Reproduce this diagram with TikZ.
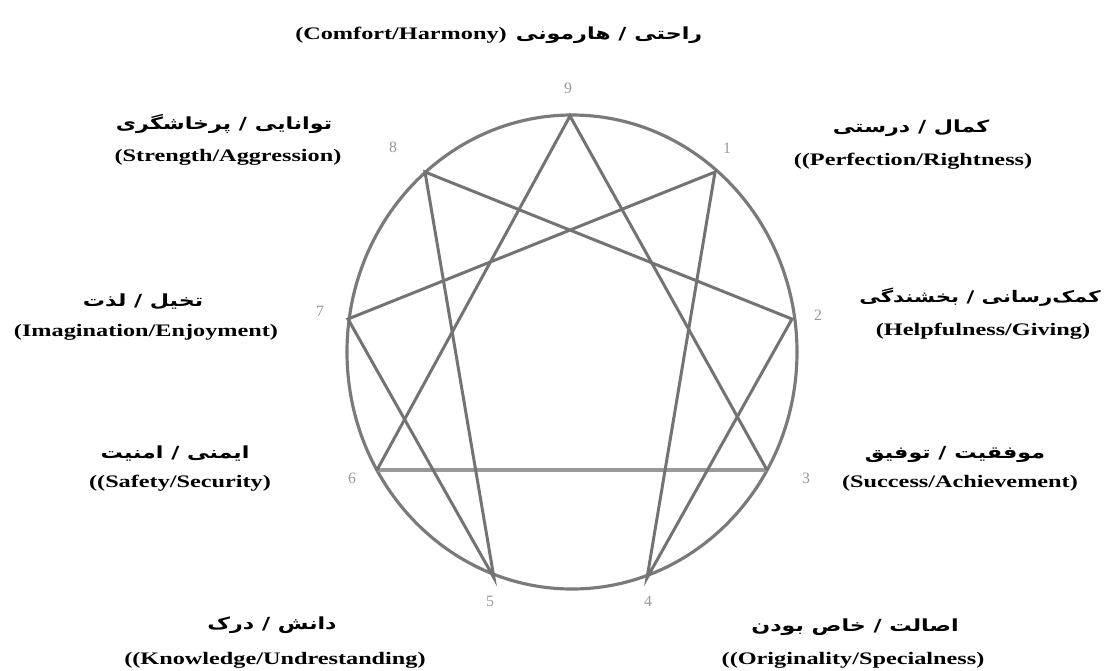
\documentclass[tikz,border=0pt]{standalone}
\usepackage{fontspec}
\setmainfont{Liberation Serif}
\newfontfamily\farsi[Script=Arabic]{DejaVu Sans}
\TeXXeTstate=1
\newcommand{\widen}[1]{\scalebox{1.38}[1]{#1}}
\newcommand{\widefa}[1]{\scalebox{1.33}[1]{\beginR #1\endR}}
\begin{document}
\begin{tikzpicture}[
  x=0.02cm,
  y=-0.02cm,
  ring/.style={draw=black!52,line width=1.8pt},
  chord/.style={draw=black!55,line width=1.7pt,line cap=round},
  base/.style={draw=black!40,line width=2.2pt},
  num/.style={text=black!40,font=\fontsize{9}{10}\selectfont,inner sep=0pt},
  fa/.style={font=\farsi\bfseries\fontsize{9.5}{11}\selectfont,inner sep=0pt},
  en/.style={font=\bfseries\fontsize{10}{12}\selectfont,inner sep=0pt}
]
  \useasboundingbox (0,0) rectangle (1106,670);
  \draw[ring] (572,352) ellipse[x radius=225,y radius=237];

  \coordinate (p9) at (570,116);
  \coordinate (p1) at (715,172);
  \coordinate (p2) at (792,319);
  \coordinate (p3) at (767,470);
  \coordinate (p4) at (647,578);
  \coordinate (p5) at (494,578);
  \coordinate (p6) at (377,470);
  \coordinate (p7) at (348,319);
  \coordinate (p8) at (425,172);

  \draw[base] (p6)--(p3);
  \draw[chord] (p6)--(p9)--(p3);
  \draw[chord] (p1)--(p4)--(p2)--(p8)--(p5)--(p7)--cycle;

  \node[num] (n9) at (568,88) {9};
  \node[num] (n1) at (727,148) {1};
  \node[num] (n2) at (818,315) {2};
  \node[num] (n3) at (806,478) {3};
  \node[num] (n4) at (648,601) {4};
  \node[num] (n5) at (490,601) {5};
  \node[num] (n6) at (352,478) {6};
  \node[num] (n7) at (320,311) {7};
  \node[num] (n8) at (393,147) {8};

  \node[en] (en9) at (401,35) {\widen{(Comfort/Harmony)}};
  \node[fa] (fa9) at (609,35) {\widefa{راحتی / هارمونی}};

  \node[fa] (fa1) at (911,128) {\widefa{کمال / درستی}};
  \node[en] (en1) at (913,161) {\widen{((Perfection/Rightness)}};
  \node[fa,font=\farsi\bfseries\fontsize{9.1}{11}\selectfont] (fa2) at (980,297) {\widefa{کمک‌رسانی / بخشندگی}};
  \node[en] (en2) at (983,331) {\widen{(Helpfulness/Giving)}};
  \node[fa] (fa3) at (955,454) {\widefa{موفقیت / توفیق}};
  \node[en] (en3) at (960,483) {\widen{(Success/Achievement)}};
  \node[fa] (fa4) at (855,627) {\widefa{اصالت / خاص بودن}};
  \node[en] (en4) at (853,660) {\widen{((Originality/Specialness)}};
  \node[fa] (fa5) at (272,625) {\widefa{دانش / درک}};
  \node[en] (en5) at (275,660) {\widen{((Knowledge/Undrestanding)}};
  \node[fa] (fa6) at (175,454) {\widefa{ایمنی / امنیت}};
  \node[en] (en6) at (180,483) {\widen{((Safety/Security)}};
  \node[fa] (fa7) at (143,302) {\widefa{تخیل / لذت}};
  \node[en] (en7) at (146,332) {\widen{(Imagination/Enjoyment)}};
  \node[fa] (fa8) at (224,124) {\widefa{توانایی / پرخاشگری}};
  \node[en] (en8) at (228,157) {\widen{(Strength/Aggression)}};
\end{tikzpicture}
\end{document}
